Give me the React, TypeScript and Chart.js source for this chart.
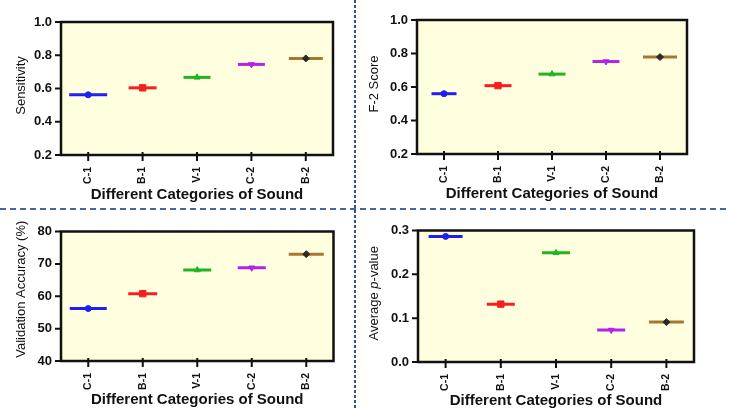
import React, { useEffect, useRef } from 'react';
import { Chart, registerables } from 'chart.js';
Chart.register(...registerables);

// ---------- data ----------
const categories = ['C-1', 'B-1', 'V-1', 'C-2', 'B-2'];
const sensitivity = [0.562, 0.604, 0.667, 0.745, 0.781];
const f2Score = [0.560, 0.608, 0.677, 0.752, 0.779];
const validationAccuracy = [56.2, 60.8, 68.1, 68.8, 73.0];
const averagePValue = [0.2865, 0.132, 0.249, 0.073, 0.091];

const sensitivityTicks = [0.2, 0.4, 0.6, 0.8, 1.0];
const f2Ticks = [0.2, 0.4, 0.6, 0.8, 1.0];
const accuracyTicks = [40, 50, 60, 70, 80];
const pValueTicks = [0.0, 0.1, 0.2, 0.3];

// ---------- styles ----------
const lineColors = ['#1f1ff5', '#f51f1f', '#22b322', '#b422e6', '#a8772f'];
const markerColors = ['#1f1ff5', '#f51f1f', '#22b322', '#b422e6', '#2a2a2a'];
const markerStyles = ['circle', 'rect', 'triangle', 'triangle', 'rectRot'];
const markerRotation = [0, 0, 0, 180, 0];
const markerRadius = [3, 4.5, 3.5, 3.5, 3.5];
const FONT = "'Liberation Sans', Arial, sans-serif";

type Part = { text: string; italic?: boolean };
type Panel = {
  values: number[];
  ticks: number[];
  fmt: (v: number) => string;
  title: Part[];
  left: number; top: number; width: number; height: number;
  padTop: number; padRight: number;
  yWidth: number; xHeight: number; xTitlePad: number;
  yTitleX: number; yTitleShift: number;
  halfWidths: number[];
};

const panels: Panel[] = [
  {
    values: sensitivity, ticks: sensitivityTicks, fmt: (v) => v.toFixed(1),
    title: [{ text: 'Sensitivity' }],
    left: 0, top: 0, width: 355, height: 207, padTop: 21, padRight: 20,
    yWidth: 61, xHeight: 52, xTitlePad: 3, yTitleX: 21, yTitleShift: -3,
    halfWidths: [19, 14, 13.5, 13.5, 17],
  },
  {
    values: f2Score, ticks: f2Ticks, fmt: (v) => v.toFixed(1),
    title: [{ text: 'F-2 Score' }],
    left: 357, top: 0, width: 372, height: 207, padTop: 19, padRight: 42,
    yWidth: 60, xHeight: 53, xTitlePad: 4, yTitleX: 17, yTitleShift: -3,
    halfWidths: [12.5, 13.5, 13.5, 13.5, 17],
  },
  {
    values: validationAccuracy, ticks: accuracyTicks, fmt: (v) => v.toFixed(0),
    title: [{ text: 'Validation Accuracy (%)' }],
    left: 0, top: 210, width: 355, height: 200, padTop: 19, padRight: 17,
    yWidth: 61, xHeight: 49, xTitlePad: 1, yTitleX: 21, yTitleShift: -7,
    halfWidths: [18.5, 14.5, 14, 14, 17.5],
  },
  {
    values: averagePValue, ticks: pValueTicks, fmt: (v) => v.toFixed(1),
    title: [{ text: 'Average ' }, { text: 'p', italic: true }, { text: '-value' }],
    left: 357, top: 210, width: 372, height: 200, padTop: 19, padRight: 35,
    yWidth: 61, xHeight: 48, xTitlePad: 0, yTitleX: 17, yTitleShift: -3,
    halfWidths: [17, 14, 14, 14, 17.5],
  },
];

const framePlugin = {
  id: 'frame',
  beforeDraw(chart: any) {
    const { ctx, chartArea: a } = chart;
    ctx.save();
    ctx.fillStyle = '#ffffe0';
    ctx.fillRect(a.left, a.top, a.right - a.left, a.bottom - a.top);
    ctx.restore();
  },
  afterDraw(chart: any) {
    const { ctx, chartArea: a } = chart;
    ctx.save();
    ctx.strokeStyle = '#111';
    ctx.lineWidth = 2.5;
    ctx.strokeRect(a.left, a.top, a.right - a.left, a.bottom - a.top);
    // tick marks
    ctx.lineWidth = 2;
    const xs = chart.scales.x;
    const ys = chart.scales.y;
    ctx.beginPath();
    xs.ticks.forEach((_t: any, i: number) => {
      const x = xs.getPixelForTick(i);
      ctx.moveTo(x, a.bottom - 3);
      ctx.lineTo(x, a.bottom + 6);
    });
    ys.ticks.forEach((t: any) => {
      const y = ys.getPixelForValue(t.value);
      ctx.moveTo(a.left - 6, y);
      ctx.lineTo(a.left, y);
    });
    ctx.stroke();
    const o = chart.options.plugins.yTitle;
    if (o) {
      const parts: Part[] = o.parts;
      const cy = (a.top + a.bottom) / 2 + o.shift;
      ctx.translate(o.x, cy);
      ctx.rotate(-Math.PI / 2);
      ctx.fillStyle = '#111';
      ctx.textBaseline = 'middle';
      ctx.textAlign = 'left';
      const fonts = parts.map((p) => `${p.italic ? 'italic ' : ''}13px ${FONT}`);
      let total = 0;
      const widths = parts.map((p, i) => {
        ctx.font = fonts[i];
        const w = ctx.measureText(p.text).width;
        total += w;
        return w;
      });
      let x = -total / 2;
      parts.forEach((p, i) => {
        ctx.font = fonts[i];
        ctx.fillText(p.text, x, 0);
        x += widths[i];
      });
    }
    ctx.restore();
  },
};

function PanelChart({ p }: { p: Panel }) {
  const ref = useRef<HTMLCanvasElement>(null);
  useEffect(() => {
    if (!ref.current) return;
    const chart = new Chart(ref.current, {
      type: 'line',
      data: {
        labels: categories,
        datasets: [
          {
            data: p.values,
            showLine: false,
            pointStyle: markerStyles as any,
            rotation: markerRotation as any,
            pointRadius: markerRadius,
            pointHoverRadius: markerRadius,
            pointBackgroundColor: markerColors,
            pointBorderColor: markerColors,
            pointBorderWidth: 1,
          } as any,
          {
            data: p.values,
            showLine: false,
            pointStyle: 'line',
            pointRadius: p.halfWidths,
            pointHoverRadius: p.halfWidths,
            pointBorderWidth: 3,
            pointBorderColor: lineColors,
            pointBackgroundColor: lineColors,
          } as any,
        ],
      },
      options: {
        responsive: false,
        animation: false,
        devicePixelRatio: 1,
        events: [],
        layout: { padding: { top: p.padTop, right: p.padRight, left: 0, bottom: 0 } },
        plugins: {
          legend: { display: false },
          tooltip: { enabled: false },
          yTitle: { parts: p.title, x: p.yTitleX, shift: p.yTitleShift },
        } as any,
        scales: {
          x: {
            type: 'category',
            offset: true,
            afterFit: (s: any) => { s.height = p.xHeight; },
            border: { display: false },
            grid: {
              drawOnChartArea: false,
              drawTicks: true,
              tickLength: 6,
              lineWidth: 2,
              color: 'rgba(0,0,0,0)',
              offset: false,
            },
            ticks: {
              autoSkip: false,
              maxRotation: 90,
              minRotation: 90,
              padding: 6,
              color: '#111',
              font: { family: FONT, size: 10.5, weight: 'bold' },
            },
            title: {
              display: true,
              text: 'Different Categories of Sound',
              color: '#111',
              font: { family: FONT, size: 15, weight: 'bold' },
              padding: { top: 0, bottom: p.xTitlePad },
            },
          },
          y: {
            type: 'linear',
            min: p.ticks[0],
            max: p.ticks[p.ticks.length - 1],
            afterFit: (s: any) => { s.width = p.yWidth; },
            afterBuildTicks: (s: any) => { s.ticks = p.ticks.map((v) => ({ value: v })); },
            border: { display: false },
            grid: {
              drawOnChartArea: false,
              drawTicks: true,
              tickLength: 6,
              lineWidth: 2,
              color: 'rgba(0,0,0,0)',
            },
            ticks: {
              padding: 3,
              color: '#111',
              font: { family: FONT, size: 13, weight: 'bold' },
              callback: (v: any) => p.fmt(Number(v)),
            },
          },
        },
      },
      plugins: [framePlugin],
    } as any);
    return () => chart.destroy();
  }, [p]);
  return (
    <canvas
      ref={ref}
      width={p.width}
      height={p.height}
      style={{ position: 'absolute', left: p.left, top: p.top, width: p.width, height: p.height }}
    />
  );
}

export default function App() {
  return (
    <div style={{ position: 'fixed', left: 0, top: 0, width: 729, height: 410, background: '#fff', overflow: 'hidden' }}>
      {panels.map((p, i) => (
        <PanelChart key={i} p={p} />
      ))}
      <div
        style={{
          position: 'absolute', left: 353.5, top: 0, width: 2, height: 410,
          background: 'repeating-linear-gradient(to bottom, #34508c 0px, #34508c 3px, transparent 3px, transparent 5px)',
        }}
      />
      <div
        style={{
          position: 'absolute', left: 0, top: 208, width: 729, height: 2,
          background: 'repeating-linear-gradient(to right, #4565a3 0px, #4565a3 6px, transparent 6px, transparent 10px)',
        }}
      />
    </div>
  );
}
